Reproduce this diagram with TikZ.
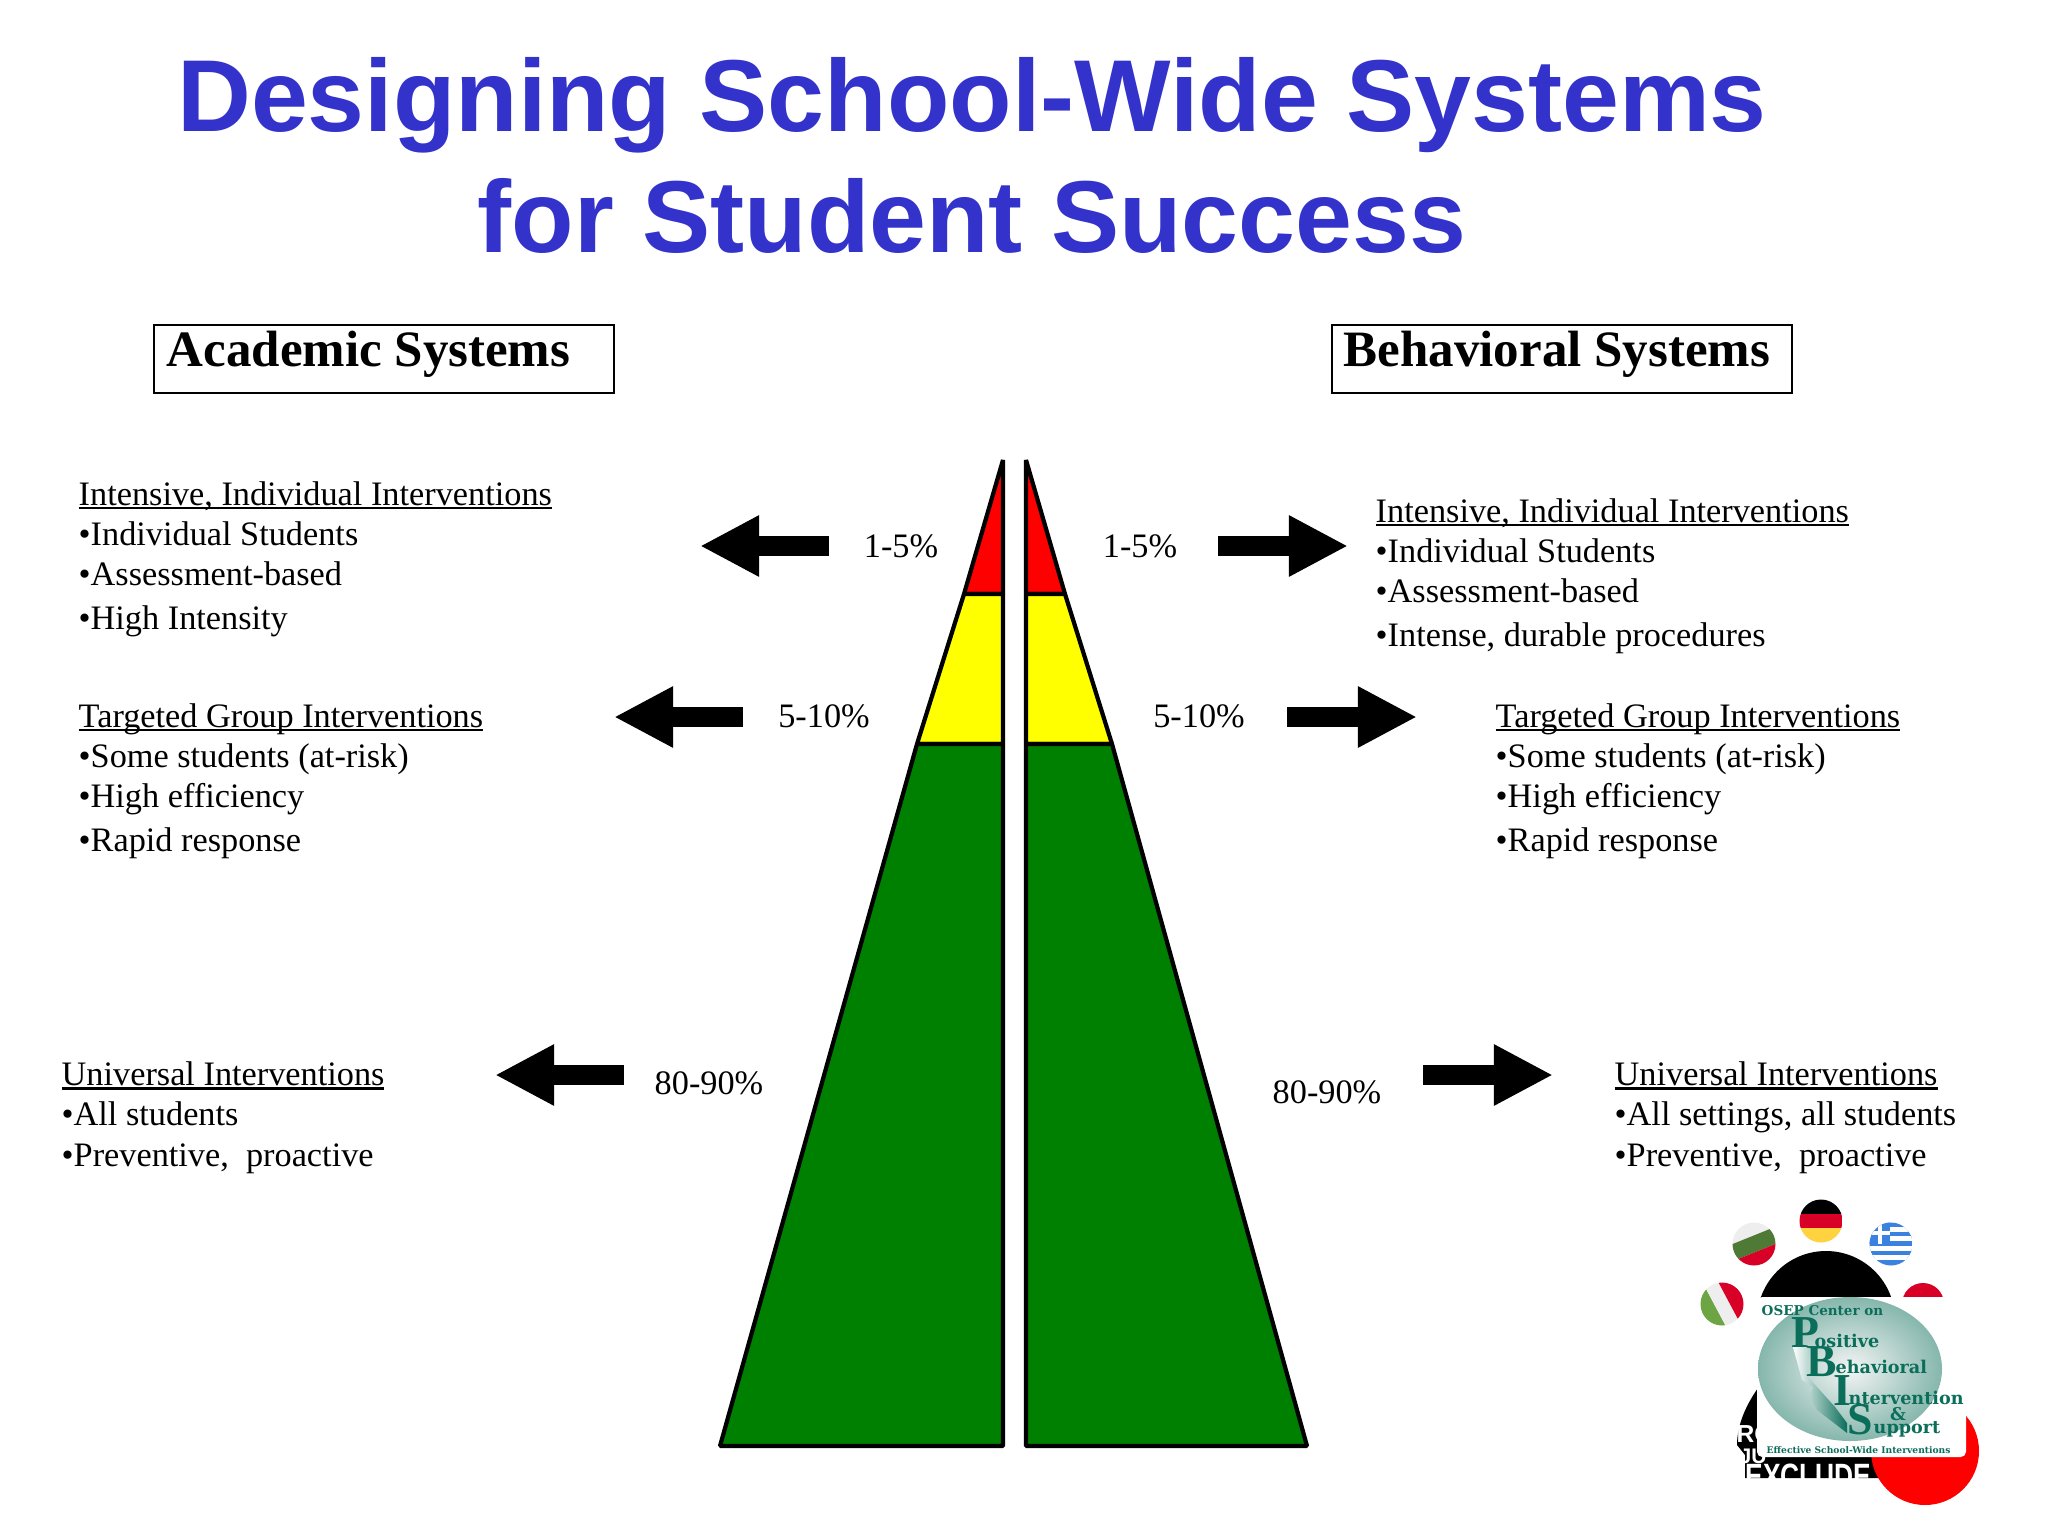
\documentclass[tikz,border=0pt]{standalone}
\usepackage{fontspec}
\setmainfont{Liberation Serif}
\newfontfamily\titlefont{Liberation Sans}
\newfontfamily\logofont{DejaVu Serif}
\usetikzlibrary{arrows.meta}
\definecolor{titleblue}{HTML}{3333CC}
\definecolor{tiergreen}{HTML}{008000}
\definecolor{tieryellow}{HTML}{FFFF00}
\definecolor{tierred}{HTML}{FF0000}
\definecolor{logogreen}{HTML}{0B6E5A}
\definecolor{flagred}{HTML}{D80027}
\definecolor{flagyellow}{HTML}{FFD23F}
\definecolor{flaggreen}{HTML}{4F7A35}
\definecolor{flagleaf}{HTML}{6DA544}
\definecolor{flagblue}{HTML}{3B82E0}
\definecolor{flagwhite}{HTML}{EEEEEE}
\newcommand\ulhead[1]{\setbox0\hbox{#1}\rlap{\rule[-1.1pt]{\wd0}{0.7pt}}#1}
\tikzset{
  headbox/.style={draw,line width=0.55pt,minimum width=4.6cm,minimum height=0.68cm,inner sep=0pt},
  headtext/.style={anchor=base west,inner sep=0pt,font=\fontsize{14.5}{17}\selectfont\bfseries},
  intervtext/.style={anchor=base west,inner sep=0pt,align=left,font=\fontsize{9.75}{11.4}\selectfont},
  pctlabel/.style={inner sep=0pt,font=\fontsize{9.75}{11.4}\selectfont},
  tierpart/.style={draw,line width=1.2pt,line join=bevel},
  blockarrow/.style={line width=0.2cm,-{Triangle[length=0.59cm,width=0.57cm]}},
  logoword/.style={anchor=base west,inner sep=0pt,text=logogreen,font=\logofont\bfseries\fontsize{5}{6}\selectfont},
  logoletter/.style={anchor=base west,inner sep=0pt,text=logogreen,font=\bfseries\fontsize{13}{14}\selectfont},
  logowhite/.style={anchor=base west,inner sep=0pt,text=white},
}
\begin{document}
\begin{tikzpicture}[x=0.01cm,y=-0.01cm]
  \useasboundingbox (0,0) rectangle (2048,1536);
  % title
  \node[align=center,inner sep=0pt,text=titleblue,font=\titlefont\bfseries\fontsize{29.07}{34.4}\selectfont](title) at (972,155) {Designing School-Wide Systems\\for Student Success};
  % column heads
  \node[headbox,anchor=north west](acadbox) at (153,324) {};
  \node[headbox,anchor=north west](behavbox) at (1331,324) {};
  \node[headtext](acadhead) at (166,366) {Academic Systems};
  \node[headtext](behavhead) at (1343,366) {Behavioral Systems};
  % pyramid
  \draw[tierpart,fill=tierred] (1003,460) -- (1003,594) -- (964,594) -- cycle;
  \draw[tierpart,fill=tieryellow] (1003,594) -- (1003,744) -- (917,744) -- (964,594) -- cycle;
  \draw[tierpart,fill=tiergreen] (1003,744) -- (1003,1446) -- (720,1446) -- (917,744) -- cycle;
  \draw[tierpart,fill=tierred] (1026,460) -- (1026,594) -- (1065,594) -- cycle;
  \draw[tierpart,fill=tieryellow] (1026,594) -- (1026,744) -- (1112,744) -- (1065,594) -- cycle;
  \draw[tierpart,fill=tiergreen] (1026,744) -- (1026,1446) -- (1307,1446) -- (1112,744) -- cycle;
  % percentages
  \node[pctlabel](acadpctA) at (901,546) {1-5\%};
  \node[pctlabel](acadpctB) at (824,716) {5-10\%};
  \node[pctlabel](acadpctC) at (709,1083) {80-90\%};
  \node[pctlabel](behavpctA) at (1140,546) {1-5\%};
  \node[pctlabel](behavpctB) at (1199,716) {5-10\%};
  \node[pctlabel](behavpctC) at (1327,1092) {80-90\%};
  % arrows
  \coordinate (acadtailA) at (829,546);
  \coordinate (acadtipA) at (700,546);
  \coordinate (acadtailB) at (743,717);
  \coordinate (acadtipB) at (614,717);
  \coordinate (acadtailC) at (624,1075);
  \coordinate (acadtipC) at (495,1075);
  \coordinate (behavtailA) at (1218,546);
  \coordinate (behavtipA) at (1348,546);
  \coordinate (behavtailB) at (1287,717);
  \coordinate (behavtipB) at (1417,717);
  \coordinate (behavtailC) at (1423,1075);
  \coordinate (behavtipC) at (1553,1075);
  \draw[blockarrow] (acadtailA) -- (acadtipA);
  \draw[blockarrow] (acadtailB) -- (acadtipB);
  \draw[blockarrow] (acadtailC) -- (acadtipC);
  \draw[blockarrow] (behavtailA) -- (behavtipA);
  \draw[blockarrow] (behavtailB) -- (behavtipB);
  \draw[blockarrow] (behavtailC) -- (behavtipC);
  % text blocks
  \node[intervtext](acadintens) at (78,629) {\ulhead{Intensive, Individual Interventions}\\•Individual Students\\•Assessment-based\\[0.9pt]•High Intensity};
  \node[intervtext](acadtarget) at (78,851) {\ulhead{Targeted Group Interventions}\\•Some students (at-risk)\\•High efficiency\\[0.9pt]•Rapid response};
  \node[intervtext](acaduniv) at (61,1166) {\ulhead{Universal Interventions}\\•All students\\•Preventive,\ \ proactive};
  \node[intervtext](behavintens) at (1375,646) {\ulhead{Intensive, Individual Interventions}\\•Individual Students\\•Assessment-based\\[0.9pt]•Intense, durable procedures};
  \node[intervtext](behavtarget) at (1495,851) {\ulhead{Targeted Group Interventions}\\•Some students (at-risk)\\•High efficiency\\[0.9pt]•Rapid response};
  \node[intervtext](behavuniv) at (1614,1166) {\ulhead{Universal Interventions}\\•All settings, all students\\•Preventive,\ \ proactive};
  % logo: flags
  \begin{scope}
    \clip (1821,1221) circle (21.5);
    \fill[black] (1799,1199) rectangle (1843,1214);
    \fill[flagred] (1799,1214) rectangle (1843,1228);
    \fill[flagyellow] (1799,1228) rectangle (1843,1243);
  \end{scope}
  \begin{scope}
    \clip (1754,1244) circle (21.5);
    \begin{scope}[shift={(1754,1244)},rotate=22]
      \fill[flagwhite] (-30,-30) rectangle (30,-8);
      \fill[flaggreen] (-30,-8) rectangle (30,8);
      \fill[flagred] (-30,8) rectangle (30,30);
    \end{scope}
  \end{scope}
  \begin{scope}
    \clip (1722,1304) circle (21.5);
    \begin{scope}[shift={(1722,1304)},rotate=28]
      \fill[flagleaf] (-30,-30) rectangle (-7,30);
      \fill[flagwhite] (-7,-30) rectangle (7,30);
      \fill[flagred] (7,-30) rectangle (30,30);
    \end{scope}
  \end{scope}
  \begin{scope}
    \clip (1891,1244) circle (21.5);
    \fill[flagblue] (1869,1222) rectangle (1913,1266);
    \foreach \stripe in {1227,1236,1246,1255}
      \fill[white] (1869,\stripe) rectangle (1913,\stripe+5);
    \fill[flagblue] (1869,1222) rectangle (1890,1244);
    \fill[white] (1869,1231) rectangle (1890,1235);
    \fill[white] (1878,1222) rectangle (1882,1244);
  \end{scope}
  % logo: backdrop
  \fill[flagred] (1923,1304) circle (21);
  \fill[black] (1826,1320) circle (69);
  \fill[black] (1758,1388) .. controls (1746,1405) and (1737,1425) .. (1737,1445) -- (1745,1455) -- (1745,1478) -- (1880,1478) -- (1880,1440) -- cycle;
  \fill[red] (1925,1451) circle (54);
  \begin{scope}
    \clip (1700,1400) rectangle (1900,1478);
    \node[logowhite,xscale=0.75,font=\titlefont\bfseries\fontsize{10}{11}\selectfont](logoexclude) at (1745,1488) {EXCLUDE};
    \node[logowhite,font=\titlefont\bfseries\fontsize{7}{9}\selectfont](logoro) at (1736,1442) {RO};
    \node[logowhite,font=\titlefont\bfseries\fontsize{6}{7}\selectfont](logoju) at (1739,1463) {JU};
  \end{scope}
  \fill[white,rounded corners=1.5pt] (1757,1297) rectangle (1966,1457);
  % logo: disc and lettering
  \shade[inner color=black!4!white,outer color=logogreen!50!white] (1850,1369) ellipse (92 and 72);
  \shade[left color=white,right color=logogreen] (1793,1347) -- (1808,1347) -- (1808,1377) -- (1835,1407) -- (1847,1423) -- (1847,1433) -- (1817,1410) -- (1810,1397) -- (1813,1387) -- (1802,1380) -- cycle;
  \node[logoword,font=\logofont\bfseries\fontsize{3.85}{5}\selectfont](logoosep) at (1761,1315) {OSEP Center on};
  \node[logoletter](logoP) at (1791,1347) {P};
  \node[logoword](logoP2) at (1814,1347) {ositive};
  \node[logoletter](logoB) at (1806,1376) {B};
  \node[logoword](logoB2) at (1835,1373) {ehavioral};
  \node[logoletter](logoI) at (1833,1405) {I};
  \node[logoword](logoI2) at (1848,1404) {ntervention};
  \node[logoword,anchor=center](logoamp) at (1898,1414) {\&};
  \node[logoletter](logoS) at (1847,1434) {S};
  \node[logoword](logoS2) at (1873,1433) {upport};
  \node[logoword,font=\logofont\bfseries\fontsize{2.6}{3}\selectfont](logoeff) at (1766,1453) {Effective School-Wide Interventions};
\end{tikzpicture}
\end{document}
